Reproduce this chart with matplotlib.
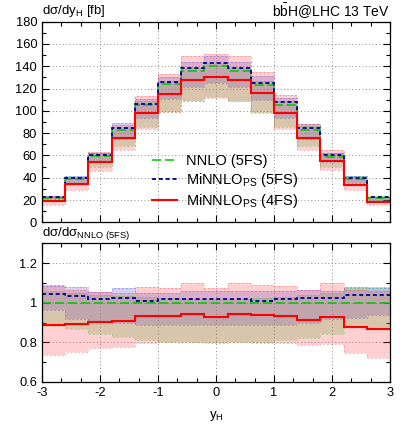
import numpy as np
import matplotlib
matplotlib.use("Agg")
import matplotlib.pyplot as plt
from matplotlib.ticker import MultipleLocator
from matplotlib.lines import Line2D

plt.rcParams['font.family'] = ['Liberation Sans', 'DejaVu Sans']
plt.rcParams['mathtext.fontset'] = 'custom'
plt.rcParams['mathtext.rm'] = 'Liberation Sans'
plt.rcParams['mathtext.it'] = 'Liberation Sans:italic'
plt.rcParams['font.size'] = 8.6

# ---------------- data ----------------
edges = [-3.0, -2.6, -2.2, -1.8, -1.4, -1.0, -0.6, -0.2, 0.2, 0.6, 1.0, 1.4, 1.8, 2.2, 2.6, 3.0]

nnlo = [21.5, 38.5, 59.5, 83.0, 105.5, 124.0, 136.0, 140.5, 136.0, 123.5, 105.5, 83.0, 59.0, 38.5, 21.5]

# ratios to NNLO (5FS): central, lower, upper
nnlo_lo = [0.885, 0.865, 0.84, 0.825, 0.81, 0.80, 0.80, 0.80, 0.80, 0.80, 0.81, 0.82, 0.84, 0.88, 0.865]
nnlo_hi = [1.06, 1.05, 1.04, 1.035, 1.03, 1.025, 1.02, 1.02, 1.02, 1.025, 1.03, 1.04, 1.047, 1.073, 1.081]

mi5_r = [1.044, 1.035, 1.017, 1.024, 1.008, 1.017, 1.017, 1.019, 1.017, 1.010, 1.019, 1.022, 1.025, 1.039, 1.037]
mi5_lo = [0.963, 0.92, 0.91, 0.90, 0.89, 0.89, 0.89, 0.89, 0.89, 0.89, 0.89, 0.90, 0.92, 0.925, 0.937]
mi5_hi = [1.084, 1.081, 1.052, 1.073, 1.05, 1.05, 1.06, 1.06, 1.06, 1.06, 1.06, 1.065, 1.06, 1.08, 1.075]

mi4_r = [0.887, 0.892, 0.902, 0.907, 0.932, 0.932, 0.941, 0.929, 0.941, 0.938, 0.931, 0.912, 0.926, 0.878, 0.865]
mi4_lo = [0.738, 0.752, 0.774, 0.777, 0.797, 0.80, 0.80, 0.797, 0.80, 0.797, 0.797, 0.786, 0.79, 0.747, 0.723]
mi4_hi = [1.089, 1.064, 1.056, 1.05, 1.078, 1.073, 1.098, 1.073, 1.098, 1.09, 1.084, 1.064, 1.098, 1.064, 1.06]

labels = ['NNLO (5FS)', r'MiNNLO$_{\rm PS}$ (5FS)', r'MiNNLO$_{\rm PS}$ (4FS)']

# ---------------- styles ----------------
c_green = (0.0, 0.78, 0.0)
c_blue = (0.0, 0.0, 0.6)
c_red = (1.0, 0.0, 0.0)
band_cols = [(0.2, 0.8, 0.2), (0.3, 0.3, 0.85), (1.0, 0.25, 0.3)]

edges_a = np.array(edges)
nn = np.array(nnlo)

series = [
    (np.ones(15), np.array(nnlo_lo), np.array(nnlo_hi), c_green, (0, (6, 2.5)), 1.1),
    (np.array(mi5_r), np.array(mi5_lo), np.array(mi5_hi), c_blue, (0, (2.2, 1.6)), 1.3),
    (np.array(mi4_r), np.array(mi4_lo), np.array(mi4_hi), c_red, '-', 1.5),
]

W, H = 407, 429
fig = plt.figure(figsize=(W / 100, H / 100), dpi=100)
ax1 = fig.add_axes([42 / W, 1 - 222.3 / H, 348 / W, 200.6 / H])
ax2 = fig.add_axes([42 / W, 1 - 382 / H, 348 / W, 138.7 / H])


def draw(ax, scale):
    for (r, lo, hi, col, ls, lw), bc in zip(series, band_cols):
        ax.stairs(hi * scale, edges_a, baseline=lo * scale, fill=True,
                  color=bc, alpha=0.25, lw=0, zorder=2)
        ax.stairs(hi * scale, edges_a, baseline=None, color=bc, alpha=0.4,
                  lw=0.7, ls=(0, (2, 2)), zorder=2.5)
        ax.stairs(lo * scale, edges_a, baseline=None, color=bc, alpha=0.4,
                  lw=0.7, ls=(0, (2, 2)), zorder=2.5)
    for (r, lo, hi, col, ls, lw), lab in zip(series, labels):
        ax.stairs(r * scale, edges_a, baseline=None, color=col, ls=ls,
                  lw=lw, zorder=4, label=lab)


draw(ax1, nn)
draw(ax2, np.ones(15))

leg_handles = [Line2D([], [], color=s[3], ls=s[4], lw=s[5]) for s in series]
ax1.legend(leg_handles, labels, loc='lower left', bbox_to_anchor=(0.299, 0.03),
           frameon=False, handlelength=1.75, handletextpad=0.6, labelspacing=0.22,
           fontsize=10.5, borderaxespad=0)

for ax in (ax1, ax2):
    ax.set_xlim(-3, 3)
    ax.xaxis.set_major_locator(MultipleLocator(1))
    ax.xaxis.set_minor_locator(MultipleLocator(1 / 3))
    ax.tick_params(which='both', direction='in', top=True, right=True, labelsize=9.3)
    ax.tick_params(which='major', length=5, width=0.8)
    ax.tick_params(which='minor', length=3, width=0.8)
    ax.grid(True, which='major', ls=(0, (1, 2.5)), color=(0.55, 0.55, 0.55), lw=0.7, zorder=1)
    ax.set_axisbelow(True)
    for sp in ax.spines.values():
        sp.set_linewidth(0.9)
        sp.set_zorder(6)

ax1.set_ylim(0, 180)
ax1.yaxis.set_major_locator(MultipleLocator(20))
ax1.yaxis.set_minor_locator(MultipleLocator(10))
ax1.tick_params(labelbottom=False)

ax2.set_ylim(0.6, 1.3)
ax2.yaxis.set_minor_locator(MultipleLocator(0.1))
ax2.set_yticks([0.6, 0.8, 1.0, 1.2])
ax2.set_yticklabels(['0.6', '0.8', '1', '1.2'])
ax2.set_xticks([-3, -2, -1, 0, 1, 2, 3])
ax2.set_xticklabels(['-3', '-2', '-1', '0', '1', '2', '3'])

fig.text(42 / W, 1 - 11 / H, 'dσ/dy$_{\\rm H}$ [fb]', ha='left', va='center', fontsize=9.5)
fig.text(390 / W, 1 - 11 / H, r'b$\bar{\rm b}$H@LHC 13 TeV', ha='right', va='center', fontsize=10)
fig.text(42 / W, 1 - 233 / H, 'dσ/dσ$_{\\rm NNLO\\ (5FS)}$', ha='left', va='center', fontsize=9.5)
fig.text(216 / W, 1 - 416 / H, r'y$_{\rm H}$', ha='center', va='center', fontsize=9.5)

fig.savefig('out.png', dpi=100)
